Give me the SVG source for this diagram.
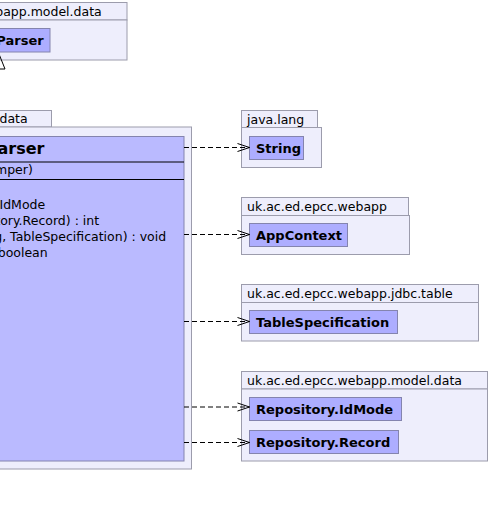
<svg xmlns="http://www.w3.org/2000/svg" width="490" height="507" viewBox="0 0 490 507">
<defs>
<style>
.pkg{fill:#EEEEFC;stroke:#9C9CAC;stroke-width:1}
.cls{fill:#ADADFF;stroke:#8484AE;stroke-width:1}
.main{fill:#BABAFF;stroke:#8484AE;stroke-width:1}
.sep{stroke:#000;stroke-width:1}
.pt{font-family:"DejaVu Sans",sans-serif;font-size:12.5px;fill:#000}
.ct{font-family:"DejaVu Sans",sans-serif;font-size:13px;font-weight:bold;fill:#000}
.ht{font-family:"DejaVu Sans",sans-serif;font-size:16px;font-weight:bold;fill:#000}
.dep{fill:none;stroke:#000;stroke-width:1;stroke-dasharray:5,3}
</style>
<marker id="open" markerUnits="userSpaceOnUse" markerWidth="16" markerHeight="12" refX="13" refY="5" orient="auto" overflow="visible">
<path d="M1,1 L13,5 L1,9" fill="none" stroke="#000" stroke-width="1" stroke-dasharray="none"/>
</marker>
</defs>

<g id="pkg-top">
<rect class="pkg" x="-10" y="2.5" width="137" height="17.5"/>
<rect class="pkg" x="-10" y="20" width="137" height="40"/>
<text class="pt" x="-4.8" y="16">bapp.model.data</text>
<g id="node-parser-base">
<rect class="cls" x="-10" y="28.5" width="60" height="23.5"/>
<text class="ct" x="-3.7" y="45">Parser</text>
</g>
</g>

<g id="pkg-data">
<rect class="pkg" x="-10" y="110.5" width="61.5" height="16.5"/>
<rect class="pkg" x="-10" y="127" width="201.5" height="342"/>
<text class="pt" x="-0.5" y="123">data</text>
<g id="node-parser">
<rect class="main" x="-10" y="136.5" width="194" height="324.5"/>
<line class="sep" x1="-10" y1="162" x2="184" y2="162"/>
<line class="sep" x1="-10" y1="179.5" x2="184" y2="179.5"/>
<text class="ht" x="-2.5" y="154">arser</text>
<text class="pt" x="-5" y="174">mper)</text>
<text class="pt" x="-0.5" y="209">IdMode</text>
<text class="pt" x="-4.7" y="225">tory.Record) : int</text>
<text class="pt" x="-5.8" y="241">g, TableSpecification) : void</text>
<text class="pt" x="-2.3" y="257">boolean</text>
</g>
</g>

<g id="pkg-java-lang">
<rect class="pkg" x="241.5" y="110.5" width="76" height="17"/>
<rect class="pkg" x="241.5" y="127.5" width="80" height="40"/>
<text class="pt" x="247" y="124">java.lang</text>
<g id="node-string">
<rect class="cls" x="249.5" y="136.5" width="54" height="23"/>
<text class="ct" x="256" y="153">String</text>
</g>
</g>

<g id="pkg-webapp">
<rect class="pkg" x="241.5" y="197.5" width="167" height="18"/>
<rect class="pkg" x="241.5" y="215.5" width="168" height="39"/>
<text class="pt" x="247" y="211">uk.ac.ed.epcc.webapp</text>
<g id="node-appcontext">
<rect class="cls" x="249.5" y="223.5" width="98" height="23"/>
<text class="ct" x="256" y="240">AppContext</text>
</g>
</g>

<g id="pkg-jdbc-table">
<rect class="pkg" x="241.5" y="284.5" width="237" height="18"/>
<rect class="pkg" x="241.5" y="302.5" width="237" height="38.5"/>
<text class="pt" x="247" y="298">uk.ac.ed.epcc.webapp.jdbc.table</text>
<g id="node-tablespecification">
<rect class="cls" x="249.5" y="310.5" width="148" height="23"/>
<text class="ct" x="256" y="327">TableSpecification</text>
</g>
</g>

<g id="pkg-model-data">
<rect class="pkg" x="241.5" y="371.5" width="246" height="17.5"/>
<rect class="pkg" x="241.5" y="389" width="246" height="72"/>
<text class="pt" x="247" y="385">uk.ac.ed.epcc.webapp.model.data</text>
<g id="node-idmode">
<rect class="cls" x="249.5" y="397.5" width="152" height="23"/>
<text class="ct" x="256" y="414">Repository.IdMode</text>
</g>
<g id="node-record">
<rect class="cls" x="249.5" y="430.5" width="149" height="23"/>
<text class="ct" x="256" y="447">Repository.Record</text>
</g>
</g>

<g id="connectors">
<polygon points="-1,54 5,69 -7,69" fill="none" stroke="#000" stroke-width="1"/>
<line class="dep" x1="184" y1="147.5" x2="249.5" y2="147.5" marker-end="url(#open)"/>
<line class="dep" x1="184" y1="234.5" x2="249.5" y2="234.5" marker-end="url(#open)"/>
<line class="dep" x1="184" y1="321.5" x2="249.5" y2="321.5" marker-end="url(#open)"/>
<line class="dep" x1="184" y1="407" x2="249.5" y2="407" marker-end="url(#open)"/>
<line class="dep" x1="184" y1="442.5" x2="249.5" y2="442.5" marker-end="url(#open)"/>
</g>
</svg>
